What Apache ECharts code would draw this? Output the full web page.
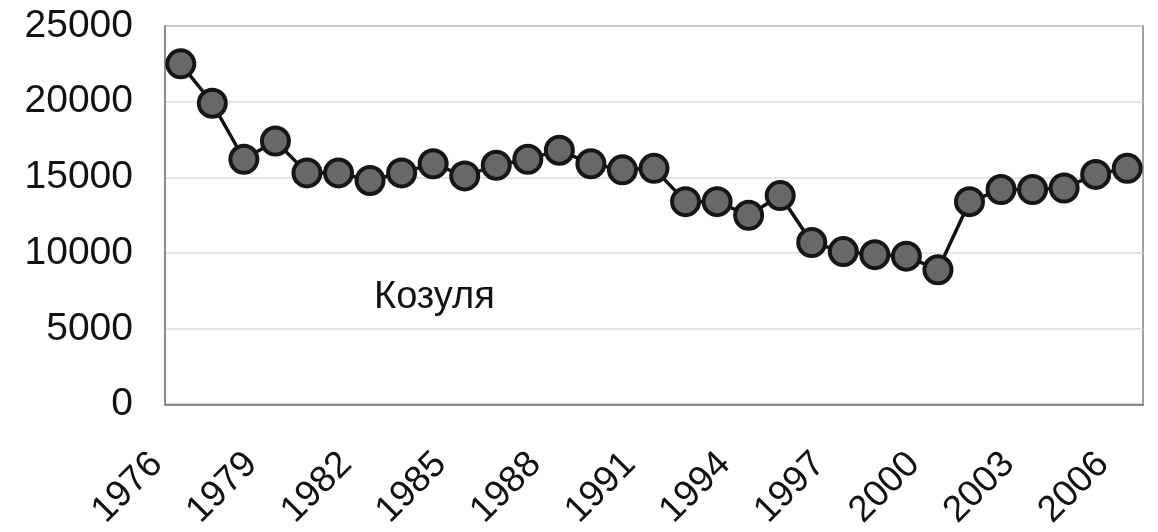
<!DOCTYPE html>
<html>
<head>
<meta charset="utf-8">
<script src="https://cdn.jsdelivr.net/npm/echarts@6/dist/echarts.min.js"></script>
<style>html,body{margin:0;padding:0;background:#fff}#c{width:1158px;height:532px}</style>
</head>
<body>
<div id="c"></div>
<script>
var years = ['1976','1977','1978','1979','1980','1981','1982','1983','1984','1985','1986','1987','1988','1989','1990','1991','1992','1993','1994','1995','1996','1997','1998','1999','2000','2001','2002','2003','2004','2005','2006'];
var values = [22500,19900,16200,17400,15300,15300,14800,15300,15900,15100,15800,16200,16800,15900,15500,15600,13400,13400,12500,13800,10700,10100,9900,9800,8900,13400,14200,14200,14300,15200,15600];
var yTicks = [0,5000,10000,15000,20000,25000];
var seriesName = 'Козуля';

var chart = echarts.init(document.getElementById('c'), null, {renderer:'canvas'});
chart.setOption({
  backgroundColor:'#fff',
  animation:false,
  grid:{left:165,right:15,top:26,bottom:126,show:true,borderColor:'#a0a0a0',borderWidth:2,backgroundColor:'transparent'},
  xAxis:{
    type:'category',data:years,boundaryGap:true,
    axisLine:{show:true,lineStyle:{color:'#8a8a8a',width:2}},
    axisTick:{show:false},
    axisLabel:{interval:2,rotate:45,margin:30,padding:[0,34,0,0],color:'#111',fontFamily:'Liberation Sans, Arial, sans-serif',fontSize:37},
    splitLine:{show:false}
  },
  yAxis:{
    type:'value',min:yTicks[0],max:yTicks[yTicks.length-1],interval:5000,
    axisLine:{show:true,lineStyle:{color:'#8a8a8a',width:2}},
    axisTick:{show:false},
    axisLabel:{margin:32,color:'#111',fontFamily:'Liberation Sans, Arial, sans-serif',fontSize:39,formatter:function(v){return String(v);}},
    splitLine:{show:true,lineStyle:{color:'#dcdcdc',width:1.5}}
  },
  graphic:[{type:'text',left:374,top:279,style:{text:seriesName,fontFamily:'Liberation Sans, Arial, sans-serif',fontSize:38,fill:'#111'}}],
  series:[{
    type:'line',name:seriesName,data:values,
    symbol:'circle',symbolSize:27,showSymbol:true,showAllSymbol:true,
    lineStyle:{color:'#111',width:3.5},
    itemStyle:{color:'#686868',borderColor:'#161616',borderWidth:4},
    z:3
  }]
});
</script>
</body>
</html>
